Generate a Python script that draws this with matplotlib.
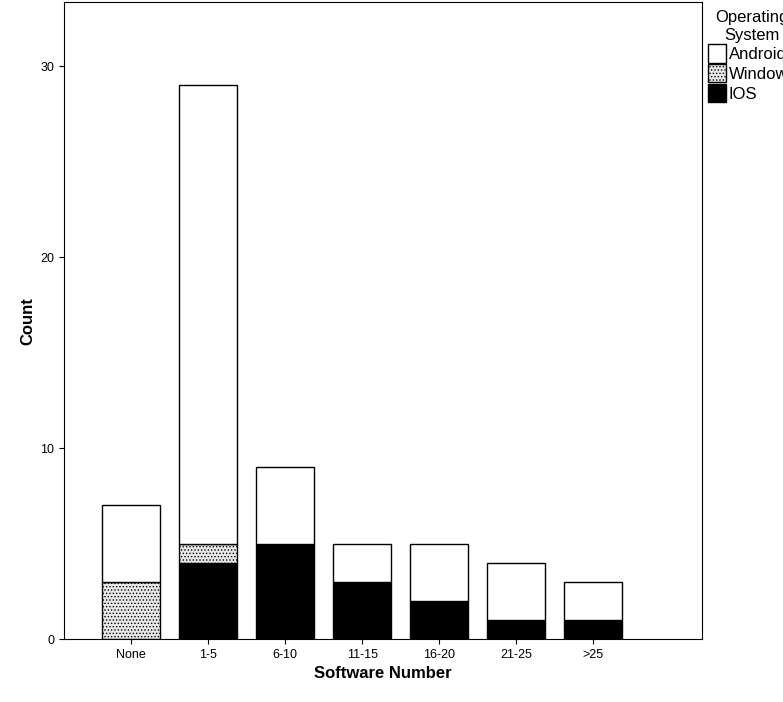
import matplotlib.pyplot as plt
import numpy as np

plt.rcParams['font.family'] = ['Liberation Sans', 'DejaVu Sans']
plt.rcParams['hatch.color'] = '#555555'
plt.rcParams['hatch.linewidth'] = 0.6

categories = ['None', '1-5', '6-10', '11-15', '16-20', '21-25', '>25']
ios = [0, 4, 5, 3, 2, 1, 1]
windows = [3, 1, 0, 0, 0, 0, 0]
android = [4, 24, 4, 2, 3, 3, 2]

fig = plt.figure(figsize=(7.83, 7.02), dpi=100)
ax = fig.add_axes([0.082, 0.0897, 0.815, 0.907])

x = np.arange(len(categories))
w = 0.75
ios = np.array(ios)
windows = np.array(windows)
android = np.array(android)

ax.bar(x, ios, w, color='black', edgecolor='black', linewidth=1, label='IOS')
ax.bar(x, windows, w, bottom=ios, color='#e8e8e8', edgecolor='black', linewidth=1,
       hatch='.....', label='Windows')
ax.bar(x, android, w, bottom=ios + windows, color='white', edgecolor='black',
       linewidth=1, label='Android')

ax.set_xlim(-0.87, 7.415)
ax.set_ylim(0, 33.35)
ax.set_xticks(x)
ax.set_xticklabels(categories, fontsize=9)
ax.set_yticks([0, 10, 20, 30])
ax.tick_params(axis='y', labelsize=9)
ax.set_xlabel('Software Number', fontsize=12, fontweight='bold')
ax.set_ylabel('Count', fontsize=12, fontweight='bold')

handles, labels = ax.get_legend_handles_labels()
leg = fig.legend(handles[::-1], labels[::-1], loc='upper left',
                 bbox_to_anchor=(0.9, 0.99), frameon=False, fontsize=12,
                 title='Operating\nSystem', title_fontsize=12,
                 handlelength=1.1, handleheight=1.3, handletextpad=0.15,
                 labelspacing=0.1, borderpad=0.1, borderaxespad=0.1)
leg.get_title().set_multialignment('center')

fig.savefig('out.png', dpi=100)
